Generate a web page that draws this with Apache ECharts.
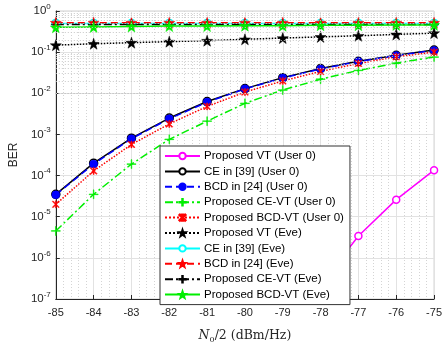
<!DOCTYPE html>
<html>
<head>
<meta charset="utf-8">
<script src="https://cdn.jsdelivr.net/npm/echarts@6/dist/echarts.min.js"></script>
<style>
html,body{margin:0;padding:0;background:#fff;}
#main{width:445px;height:349px;}
</style>
</head>
<body>
<div id="main"></div>
<script>
// noise level N0/2 (dBm/Hz)
var noiseLevels = [-85, -84, -83, -82, -81, -80, -79, -78, -77, -76, -75];

// BER curves
var propVtUser0  = [null, null, null, null, null, null, 1.6e-8, 2.2e-7, 3.4e-6, 2.6e-5, 1.35e-4];
var ceUser0      = [3.5e-5, 2.0e-4, 8.1e-4, 2.5e-3, 6.3e-3, 1.3e-2, 2.4e-2, 4.0e-2, 6.0e-2, 8.4e-2, 1.12e-1];
var bcdUser0     = [3.4e-5, 1.9e-4, 7.9e-4, 2.4e-3, 6.1e-3, 1.28e-2, 2.35e-2, 3.9e-2, 5.9e-2, 8.3e-2, 1.1e-1];
var ceVtUser0    = [4.5e-6, 3.5e-5, 1.9e-4, 7.6e-4, 2.1e-3, 5.7e-3, 1.2e-2, 2.2e-2, 3.6e-2, 5.4e-2, 7.6e-2];
var bcdVtUser0   = [2.0e-5, 1.3e-4, 5.7e-4, 1.8e-3, 4.8e-3, 1.07e-2, 2.0e-2, 3.4e-2, 5.3e-2, 7.7e-2, 1.0e-1];
var propVtEve    = [0.148, 0.16, 0.17, 0.18, 0.19, 0.205, 0.22, 0.235, 0.25, 0.27, 0.29];
var ceEve        = [0.50, 0.50, 0.50, 0.50, 0.50, 0.50, 0.50, 0.50, 0.50, 0.50, 0.50];
var bcdEve       = [0.52, 0.52, 0.52, 0.52, 0.52, 0.52, 0.52, 0.52, 0.52, 0.52, 0.52];
var ceVtEve      = [0.47, 0.47, 0.47, 0.47, 0.47, 0.47, 0.47, 0.47, 0.47, 0.47, 0.47];
var bcdVtEve     = [0.40, 0.41, 0.42, 0.43, 0.43, 0.44, 0.44, 0.45, 0.45, 0.46, 0.46];

var names = [
    'Proposed VT (User 0)', 'CE in [39] (User 0)', 'BCD in [24] (User 0)',
    'Proposed CE-VT (User 0)', 'Proposed BCD-VT (User 0)', 'Proposed VT (Eve)',
    'CE in [39] (Eve)', 'BCD in [24] (Eve)', 'Proposed CE-VT (Eve)', 'Proposed BCD-VT (Eve)'
];

// minor grid positions of the log axis (2..9 per decade)
var minorY = [];
for (var e = -7; e < 0; e++) {
    for (var m = 2; m <= 9; m++) minorY.push({yAxis: m * Math.pow(10, e)});
}

var STAR = 'path://M0,-10 L2.35,-3.24 L9.51,-3.09 L3.8,1.24 L5.88,8.09 L0,4 L-5.88,8.09 L-3.8,1.24 L-9.51,-3.09 L-2.35,-3.24 Z';
var PLUS = 'path://M-0.8,-10 L0.8,-10 L0.8,-0.8 L10,-0.8 L10,0.8 L0.8,0.8 L0.8,10 L-0.8,10 L-0.8,0.8 L-10,0.8 L-10,-0.8 L-0.8,-0.8 Z';
var CROSS = 'path://M-8,-10 L0,-2 L8,-10 L10,-8 L2,0 L10,8 L8,10 L0,2 L-8,10 L-10,8 L-2,0 L-10,-8 Z M-1.5,-10 L1.5,-10 L1.5,10 L-1.5,10 Z';
var DASHDOT = [8, 3, 2, 3];

function pairs(vals) {
    var out = [];
    for (var i = 0; i < noiseLevels.length; i++) out.push([noiseLevels[i], vals[i]]);
    return out;
}

function line(name, vals, color, type, symbol, size, hollow) {
    return {
        name: name,
        type: 'line',
        data: pairs(vals),
        symbol: symbol,
        symbolSize: size,
        connectNulls: false,
        lineStyle: {color: color, width: 1.5, type: type},
        itemStyle: hollow ? {color: '#fff', borderColor: color, borderWidth: 1.5}
                          : {color: color, borderColor: color, borderWidth: 0.5},
        emphasis: {disabled: true},
        z: 3
    };
}

var series = [
    line(names[0], propVtUser0, '#ff00ff', 'solid', 'circle', 7, true),
    line(names[1], ceUser0, '#000000', 'solid', 'circle', 8, true),
    line(names[2], bcdUser0, '#0000ff', [7, 4], 'circle', 8, false),
    line(names[3], ceVtUser0, '#00ee00', DASHDOT, PLUS, 9, false),
    line(names[4], bcdVtUser0, '#ff0000', 'dotted', CROSS, 7, false),
    line(names[5], propVtEve, '#000000', 'dotted', STAR, 11, false),
    line(names[6], ceEve, '#00ffff', 'solid', 'circle', 8, true),
    line(names[7], bcdEve, '#ff0000', [7, 4], STAR, 11, false),
    line(names[8], ceVtEve, '#000000', DASHDOT, PLUS, 9, false),
    line(names[9], bcdVtEve, '#00ee00', 'solid', STAR, 11, false),
    {
        name: 'minor',
        type: 'line',
        data: [],
        silent: true,
        z: 1,
        markLine: {
            silent: true,
            symbol: ['none', 'none'],
            label: {show: false},
            lineStyle: {color: '#c8c8c8', type: [1, 2], width: 1},
            data: minorY
        }
    }
];

var myChart = echarts.init(document.getElementById('main'));
option = {
    animation: false,
    backgroundColor: '#fff',
    textStyle: {fontFamily: 'Liberation Sans, Arial, sans-serif'},
    grid: {
        left: 54,
        right: 8,
        top: 11,
        bottom: 36,
        show: true,
        borderColor: '#d0d0d0',
        borderWidth: 1
    },
    legend: {
        data: names,
        orient: 'vertical',
        left: 160,
        top: 146,
        padding: [4, 6, 4, 4],
        itemWidth: 35,
        itemHeight: 8,
        itemGap: 3.4,
        backgroundColor: '#fff',
        borderColor: '#333',
        borderWidth: 1,
        borderRadius: 0,
        textStyle: {fontSize: 11.5, color: '#000', lineHeight: 12, padding: [0, 0, 0, -1]},
        selectedMode: false
    },
    xAxis: {
        type: 'value',
        min: -85,
        max: -75,
        interval: 1,
        name: '{i|N}{s|0}{r|/2 (dBm/Hz)}',
        nameLocation: 'middle',
        nameGap: 29,
        nameTextStyle: {
            rich: {
                i: {fontFamily: 'DejaVu Serif', fontStyle: 'italic', fontSize: 12.5, color: '#262626'},
                s: {fontFamily: 'DejaVu Serif', fontSize: 8, color: '#262626', verticalAlign: 'bottom', padding: [8, 0, 0, 0]},
                r: {fontFamily: 'DejaVu Serif', fontSize: 12.5, color: '#262626'}
            }
        },
        axisLine: {lineStyle: {color: '#262626', width: 1}},
        axisTick: {inside: true, length: 4, lineStyle: {color: '#262626'}},
        axisLabel: {fontSize: 11, color: '#262626', margin: 8},
        splitLine: {show: true, lineStyle: {color: '#e2e2e2', width: 1}},
        minorTick: {show: false, splitNumber: 5},
        minorSplitLine: {show: true, lineStyle: {color: '#d4d4d4', type: [1, 2]}}
    },
    yAxis: {
        type: 'log',
        logBase: 10,
        min: 1e-7,
        max: 1,
        name: 'BER',
        nameLocation: 'middle',
        nameGap: 32,
        nameTextStyle: {fontSize: 12, color: '#262626'},
        axisLine: {show: true, lineStyle: {color: '#262626', width: 1}},
        axisTick: {show: true, inside: true, length: 4, lineStyle: {color: '#262626'}},
        axisLabel: {
            color: '#262626',
            margin: 5,
            formatter: function (v) {
                var ex = Math.round(Math.log10(v));
                return '{b|10}{p|' + ex + '}';
            },
            rich: {
                b: {fontSize: 11.5, color: '#262626'},
                p: {fontSize: 8, color: '#262626', verticalAlign: 'top', padding: [0, 0, 9, 0]}
            }
        },
        splitLine: {show: true, lineStyle: {color: '#e2e2e2', width: 1}}
    },
    series: series
};
myChart.setOption(option);
</script>
</body>
</html>
